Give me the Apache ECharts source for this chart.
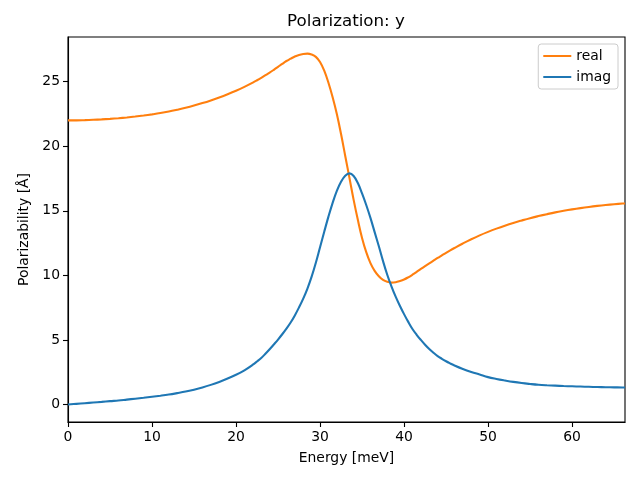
<!DOCTYPE html>
<html>
<head>
<meta charset="utf-8">
<script src="https://cdn.jsdelivr.net/npm/echarts@6/dist/echarts.min.js"></script>
<style>html,body{margin:0;padding:0;background:#fff}#c{width:640px;height:480px}</style>
</head>
<body>
<div id="c"></div>
<script>
const titleText = 'Polarization: y';
const xLabel = 'Energy [meV]';
const yLabel = 'Polarizability [Å]';
const seriesNames = ['real', 'imag'];
const energies = [0, 1, 2, 3, 4, 5, 6, 7, 8, 9, 10, 11, 12, 13, 14, 15, 16, 17, 18, 19, 20, 21,
  22, 22.5, 23, 23.5, 24, 24.5, 25, 25.5,
  26, 26.5, 27, 27.5, 28, 28.5, 29, 29.5, 30, 30.5, 31, 31.5, 32, 32.5, 33, 33.5, 34, 34.5, 35, 35.5, 36, 36.5, 37, 37.5, 38, 38.5, 39, 39.5, 40, 40.5, 41, 41.5,
  42, 42.5, 43, 43.5, 44, 44.5, 45, 45.5,
  46, 47, 48, 49, 50, 51, 52, 53, 54, 55, 56, 57, 58, 59, 60, 61, 62, 63, 64, 65, 66, 66.3];
const realValues = [22.00, 22.00, 22.02, 22.05, 22.08, 22.12, 22.17, 22.23, 22.30, 22.38, 22.47, 22.57, 22.69, 22.83, 22.98, 23.15, 23.34, 23.55, 23.78, 24.03, 24.30, 24.60,
  24.93, 25.11, 25.30, 25.50, 25.70, 25.92, 26.15, 26.38,
  26.60, 26.78, 26.95, 27.07, 27.14, 27.17, 27.10, 26.92, 26.52, 25.85, 24.92, 23.80, 22.50, 20.95, 19.25, 17.55, 15.85, 14.30, 12.90, 11.80, 10.95, 10.35, 9.93, 9.65, 9.50, 9.44, 9.47, 9.56, 9.68, 9.85, 10.05, 10.27,
  10.50, 10.72, 10.93, 11.14, 11.35, 11.55, 11.75, 11.94,
  12.12, 12.47, 12.80, 13.10, 13.37, 13.62, 13.85, 14.06, 14.25, 14.43, 14.59, 14.74, 14.88, 15.00, 15.11, 15.21, 15.30, 15.38, 15.45, 15.51, 15.56, 15.57];
const imagValues = [0.00, 0.05, 0.10, 0.15, 0.20, 0.26, 0.31, 0.38, 0.45, 0.52, 0.60, 0.68, 0.77, 0.88, 1.00, 1.15, 1.32, 1.52, 1.75, 2.01, 2.30, 2.65,
  3.08, 3.33, 3.60, 3.93, 4.28, 4.65, 5.03, 5.44,
  5.88, 6.35, 6.90, 7.52, 8.20, 8.98, 9.90, 10.98, 12.18, 13.38, 14.55, 15.62, 16.55, 17.25, 17.72, 17.90, 17.70, 17.15, 16.35, 15.45, 14.45, 13.35, 12.25, 11.10, 10.05, 9.15, 8.35, 7.65, 7.00, 6.40, 5.85, 5.40,
  5.00, 4.63, 4.30, 4.01, 3.75, 3.54, 3.35, 3.18,
  3.02, 2.75, 2.52, 2.32, 2.12, 1.98, 1.86, 1.75, 1.66, 1.59, 1.53, 1.49, 1.46, 1.43, 1.41, 1.39, 1.37, 1.35, 1.34, 1.33, 1.32, 1.32];
const xTicks = [0, 10, 20, 30, 40, 50, 60];
const yTicks = [0, 5, 10, 15, 20, 25];

const font = 'DejaVu Sans';
const chart = echarts.init(document.getElementById('c'), null, {renderer: 'canvas'});
const pairs = vals => energies.map((e, i) => [e, vals[i]]);
chart.setOption({
  animation: false,
  backgroundColor: '#fff',
  title: {
    text: titleText, left: 346, top: 13, textAlign: 'center', padding: 0,
    textStyle: {fontFamily: font, fontSize: 16.7, fontWeight: 'normal', color: '#000'}
  },
  legend: {
    data: seriesNames, orient: 'vertical', right: 22, top: 44,
    padding: [5, 7, 5, 5], itemGap: 7, itemWidth: 28, itemHeight: 14,
    borderColor: '#cccccc', borderWidth: 1, borderRadius: 3, backgroundColor: 'rgba(255,255,255,0.8)',
    textStyle: {fontFamily: font, fontSize: 13.9, color: '#000'},
    icon: 'path://M0,6 L28,6 L28,8 L0,8 Z'
  },
  grid: {left: 68, right: 15, top: 37, bottom: 58, show: true, borderColor: '#000', borderWidth: 1.1},
  xAxis: {
    type: 'value', min: 0, max: 66.3, name: xLabel, nameLocation: 'middle', nameGap: 29,
    nameTextStyle: {fontFamily: font, fontSize: 13.9, color: '#000'},
    axisLine: {show: true, onZero: false, lineStyle: {color: '#000', width: 1.1}},
    axisTick: {show: true, inside: false, length: 5, lineStyle: {color: '#000', width: 1.1}, customValues: xTicks},
    axisLabel: {fontFamily: font, fontSize: 13.9, color: '#000', margin: 8, customValues: xTicks},
    splitLine: {show: false}
  },
  yAxis: {
    type: 'value', min: -1.355, max: 28.46, name: yLabel, nameLocation: 'middle', nameGap: 36,
    nameTextStyle: {fontFamily: font, fontSize: 13.9, color: '#000'},
    axisLine: {show: true, onZero: false, lineStyle: {color: '#000', width: 1.1}},
    axisTick: {show: true, inside: false, length: 5, lineStyle: {color: '#000', width: 1.1}, customValues: yTicks},
    axisLabel: {fontFamily: font, fontSize: 13.9, color: '#000', margin: 8, customValues: yTicks},
    splitLine: {show: false}
  },
  series: [
    {name: seriesNames[0], type: 'line', data: pairs(realValues), smooth: 0.4, showSymbol: false,
     color: '#ff7f0e', lineStyle: {width: 2.1, color: '#ff7f0e'}},
    {name: seriesNames[1], type: 'line', data: pairs(imagValues), smooth: 0.4, showSymbol: false,
     color: '#1f77b4', lineStyle: {width: 2.1, color: '#1f77b4'}}
  ]
});
</script>
</body>
</html>
